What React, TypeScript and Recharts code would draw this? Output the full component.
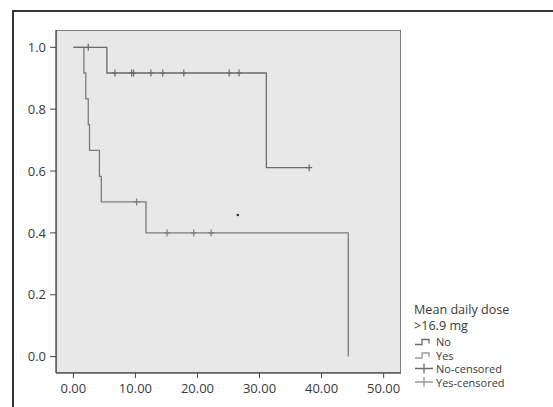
import {
  ComposedChart,
  Line,
  Scatter,
  XAxis,
  YAxis,
  ReferenceArea,
} from 'recharts';

// Kaplan-Meier steps, group "No"
const noTimes = [0, 5.4, 31.1, 38.0];
const noSurv = [1.0, 0.917, 0.611, 0.611];
// group "Yes"
const yesTimes = [0, 1.7, 2.0, 2.4, 2.6, 4.2, 4.5, 11.7, 44.3];
const yesSurv = [1.0, 0.917, 0.833, 0.75, 0.667, 0.583, 0.5, 0.4, 0.0];

// censored observations
const noCensTimes = [2.4, 6.7, 9.4, 9.7, 12.5, 14.4, 17.8, 25.1, 26.7, 38.0];
const noCensSurv = [1.0, 0.917, 0.917, 0.917, 0.917, 0.917, 0.917, 0.917, 0.917, 0.611];
const yesCensTimes = [10.2, 15.1, 19.4, 22.2];
const yesCensSurv = [0.5, 0.4, 0.4, 0.4];

// small stray dot in the plot
const strayTimes = [26.5];
const straySurv = [0.458];

const xTicks = [0, 10, 20, 30, 40, 50];
const yTicks = [0, 0.2, 0.4, 0.6, 0.8, 1.0];

const legendTitle = ['Mean daily dose', '>16.9 mg'];
const legendItems = ['No', 'Yes', 'No-censored', 'Yes-censored'];

const X_DOMAIN: [number, number] = [-2.8, 52.8];
const Y_DOMAIN: [number, number] = [-0.053, 1.056];

const NO_COLOR = '#6a6a6a';
const YES_COLOR = '#7c7c7c';
const TEXT = '#3a3a3a';
const FONT = '"Open Sans", sans-serif';

const zip = (ts: number[], ss: number[]) => ts.map((t, i) => ({ t, s: ss[i] }));

const noData = zip(noTimes, noSurv);
const yesData = zip(yesTimes, yesSurv);
const noCens = zip(noCensTimes, noCensSurv);
const yesCens = zip(yesCensTimes, yesCensSurv);
const stray = zip(strayTimes, straySurv);

const censorShape = (color: string) => (props: any) => {
  const { cx, cy } = props;
  return (
    <path
      d={`M${cx - 3},${cy}H${cx + 3}M${cx},${cy - 3.5}V${cy + 3.5}`}
      stroke={color}
      strokeWidth={1.2}
      fill="none"
    />
  );
};

const dotShape = (props: any) => (
  <circle cx={props.cx} cy={props.cy} r={1.3} fill="#333" />
);

// legend drawn as svg
const Legend = () => {
  const left = 414;
  const titleY = [309.5, 325.5];
  const itemY0 = 341.5;
  const step = 13.5;
  return (
    <svg
      width={553}
      height={407}
      style={{ position: 'absolute', left: 0, top: 0, pointerEvents: 'none' }}
    >
      {legendTitle.map((l, i) => (
        <text
          key={l}
          x={left}
          y={titleY[i]}
          dominantBaseline="central"
          fontSize={12.6}
          fontFamily={FONT}
          fill={TEXT}
        >
          {l}
        </text>
      ))}
      {legendItems.map((name, i) => {
        const y = itemY0 + i * step;
        const color = i % 2 === 0 ? NO_COLOR : '#9a9a9a';
        const icon =
          i < 2
            ? `M${left + 1},${y + 3}H${left + 8}V${y - 2}H${left + 15}V${y + 2}`
            : `M${left + 1},${y}H${left + 19}M${left + 10},${y - 5}V${y + 5}`;
        return (
          <g key={name}>
            <path d={icon} stroke={color} strokeWidth={1.3} fill="none" />
            <text
              x={left + 22}
              y={y}
              dominantBaseline="central"
              fontSize={11}
              fontFamily={FONT}
              fill={TEXT}
            >
              {name}
            </text>
          </g>
        );
      })}
    </svg>
  );
};

const App = () => {
  return (
    <div
      style={{
        position: 'absolute',
        left: 0,
        top: 0,
        width: 553,
        height: 407,
        background: '#fff',
        fontFamily: FONT,
        overflow: 'hidden',
      }}
    >
      {/* outer frame, top and left edges visible */}
      <div
        style={{
          position: 'absolute',
          left: 12,
          top: 10,
          width: 560,
          height: 420,
          borderTop: '2px solid #333',
          borderLeft: '2px solid #333',
        }}
      />
      <ComposedChart
        width={553}
        height={407}
        margin={{ top: 30, right: 152, bottom: 10, left: 0 }}
        style={{ position: 'absolute', left: 0, top: 0 }}
      >
        <ReferenceArea
          x1={X_DOMAIN[0]}
          x2={X_DOMAIN[1]}
          y1={Y_DOMAIN[0]}
          y2={Y_DOMAIN[1]}
          fill="#e8e8e8"
          fillOpacity={1}
          stroke="#5c5c5c"
          strokeWidth={1.5}
          ifOverflow="hidden"
        />
        <XAxis
          dataKey="t"
          type="number"
          domain={X_DOMAIN}
          ticks={xTicks}
          allowDataOverflow
          height={24}
          tickSize={5}
          tickMargin={6}
          tickFormatter={(v: number) => v.toFixed(2)}
          axisLine={{ stroke: '#5c5c5c', strokeWidth: 1.5 }}
          tickLine={{ stroke: '#444' }}
          tick={{ fill: TEXT, fontSize: 13, fontFamily: FONT }}
        />
        <YAxis
          dataKey="s"
          type="number"
          domain={Y_DOMAIN}
          ticks={yTicks}
          allowDataOverflow
          width={56}
          tickSize={6}
          tickMargin={4}
          tickFormatter={(v: number) => v.toFixed(1)}
          axisLine={{ stroke: '#5c5c5c', strokeWidth: 1.5 }}
          tickLine={{ stroke: '#444' }}
          tick={{ fill: TEXT, fontSize: 13, fontFamily: FONT }}
        />
        <Line
          data={yesData}
          dataKey="s"
          type="stepAfter"
          stroke={YES_COLOR}
          strokeWidth={1.3}
          dot={false}
          activeDot={false}
          isAnimationActive={false}
        />
        <Line
          data={noData}
          dataKey="s"
          type="stepAfter"
          stroke={NO_COLOR}
          strokeWidth={1.3}
          dot={false}
          activeDot={false}
          isAnimationActive={false}
        />
        <Scatter
          data={noCens}
          dataKey="s"
          shape={censorShape(NO_COLOR)}
          isAnimationActive={false}
        />
        <Scatter
          data={yesCens}
          dataKey="s"
          shape={censorShape(YES_COLOR)}
          isAnimationActive={false}
        />
        <Scatter data={stray} dataKey="s" shape={dotShape} isAnimationActive={false} />
      </ComposedChart>
      <Legend />
    </div>
  );
};

export default App;
